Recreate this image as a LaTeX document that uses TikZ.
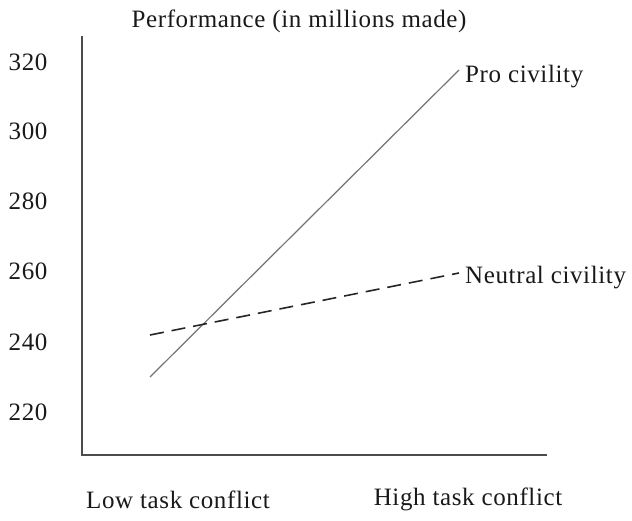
\documentclass[tikz,border=0pt]{standalone}
\usepackage{fontspec}
\setmainfont[LetterSpace=2.5]{Liberation Serif}
\begin{document}
\begin{tikzpicture}[x=1pt,y=-1pt,
  lbl/.style={font=\fontsize{25}{28}\selectfont, inner sep=0pt, text=black!90},
  axis/.style={draw=black!70, line width=1.6pt},
  proline/.style={draw=black!55, line width=1.2pt},
  neuline/.style={draw=black!85, line width=1.6pt, dash pattern=on 14pt off 8pt}]
\useasboundingbox (0,0) rectangle (632,521);
\coordinate (top) at (82,36);
\coordinate (origin) at (82,455);
\coordinate (xend) at (547,455);
\draw[axis] (top) -- (origin) -- (xend);
\node[lbl] (title) at (299,21) {Performance (in millions made)};
\node[lbl] (t320) at (28,62) {320};
\node[lbl] (t300) at (28,131) {300};
\node[lbl] (t280) at (28,201) {280};
\node[lbl] (t260) at (28,271) {260};
\node[lbl] (t240) at (28,342) {240};
\node[lbl] (t220) at (28,412) {220};
\coordinate (p0) at (150,377);
\coordinate (p1) at (459,70);
\coordinate (n0) at (150,335);
\coordinate (n1) at (459,273);
\draw[proline] (p0) -- (p1);
\draw[neuline] (n0) -- (n1);
\node[lbl, anchor=west] (pro) at (465,77) {Pro civility};
\node[lbl, anchor=west] (neu) at (465,278) {Neutral civility};
\node[lbl] (low) at (178,500) {Low task conflict};
\node[lbl] (high) at (468,499) {High task conflict};
\end{tikzpicture}
\end{document}
